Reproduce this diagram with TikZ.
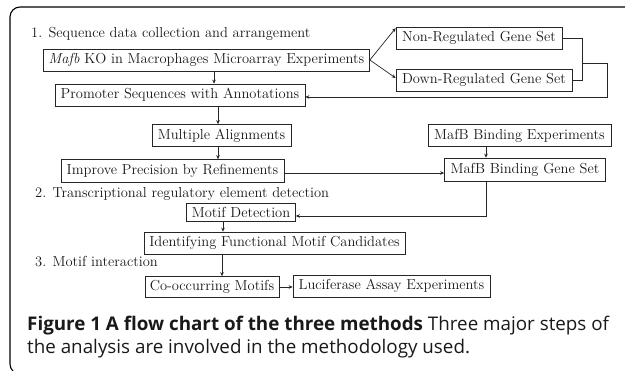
\documentclass[tikz,border=0pt]{standalone}
\usepackage{fontspec}
\newfontfamily\capfont{Open Sans}
\usetikzlibrary{arrows.meta}
\begin{document}
\begin{tikzpicture}[x=1pt,y=-1pt,
  txt/.style={font=\fontsize{14.5}{16}\selectfont, text=black!90},
  bx/.style={txt, draw=black!85, line width=0.7pt, inner sep=0pt},
  hd/.style={txt, anchor=west, inner sep=0pt},
  conn/.style={draw=black!85, line width=0.7pt},
  arr/.style={conn, -{Stealth[length=4pt,width=3.6pt]}},
  capt/.style={anchor=base west, inner sep=0pt, font=\capfont\fontsize{18.8}{22}\selectfont, text=black!90}]
\useasboundingbox (0,0) rectangle (625,371);

% outer frame, open at the right and bottom
\begin{scope}
  \clip (0,0) rectangle (625,371);
  \draw[line width=1.1pt, rounded corners=10pt] (627,7) -- (10,7) -- (10,374) -- (40,374);
\end{scope}

% section headings
\node[hd] (h1) at (31,34)  {1. Sequence data collection and arrangement};
\node[hd] (h2) at (35,194) {2. Transcriptional regulatory element detection};
\node[hd] (h3) at (35,262) {3. Motif interaction};

% boxes
\node[bx, minimum width=326pt, minimum height=22pt] (mafb)    at (206.5,60)  {\textit{Mafb} KO in Macrophages Microarray Experiments};
\node[bx, minimum width=166pt, minimum height=22pt] (nonreg)  at (479,38)    {Non-Regulated Gene Set};
\node[bx, minimum width=176pt, minimum height=22pt] (downreg) at (484,80)    {Down-Regulated Gene Set};
\node[bx, minimum width=250pt, minimum height=22pt] (prom)    at (180,95)    {Promoter Sequences with Annotations};
\node[bx, minimum width=139pt, minimum height=22pt] (multi)   at (221.5,135.5) {Multiple Alignments};
\node[bx, minimum width=223pt, minimum height=23pt] (improve) at (172.5,171)  {Improve Precision by Refinements};
\node[bx, minimum width=183pt, minimum height=22pt] (mbexp)   at (519.5,135.5) {MafB Binding Experiments};
\node[bx, minimum width=161pt, minimum height=23pt] (mbgene)  at (525,169.5) {MafB Binding Gene Set};
\node[bx, minimum width=109pt, minimum height=18pt] (motif)   at (241,212)   {Motif Detection};
\node[bx, minimum width=261pt, minimum height=22pt] (ident)   at (274.5,243) {Identifying Functional Motif Candidates};
\node[bx, minimum width=134pt, minimum height=21pt] (cooc)    at (212,287)   {Co-occurring Motifs};
\node[bx, minimum width=197pt, minimum height=22pt] (luc)     at (391.5,286) {Luciferase Assay Experiments};

% connectors
\draw[arr] (mafb.east) -- ([yshift=-1.5pt]nonreg.north west);
\draw[arr] (mafb.east) -- ([yshift=2pt]downreg.west);
\coordinate (jn) at (582,38);
\coordinate (jd) at (582,80);
\coordinate (jm) at (582,63);
\coordinate (r1) at (607,63);
\coordinate (r2) at (607,97);
\draw[conn] (nonreg.east) -- (jn) -- (jd) -- (downreg.east);
\draw[arr] (jm) -- (r1) -- (r2) -- (prom.east |- r2);

\draw[arr] (mafb.south -| 214,0) -- (prom.north -| 214,0);
\draw[arr] (prom.south -| 218,0) -- (multi.north -| 218,0);
\draw[arr] (multi.south -| 218,0) -- (improve.north -| 218,0);
\coordinate (ir) at (283,173);
\draw[arr] (improve.east |- ir) -- (mbgene.west |- ir);
\draw[arr] (mbexp.south -| 486,0) -- (mbgene.north -| 486,0);
\coordinate (mg) at (486,216);
\draw[arr] (mbgene.south -| mg) -- (mg) -- (motif.east |- mg);
\draw[arr] (motif.south -| 223,0) -- (ident.north -| 223,0);
\draw[arr] (ident.south -| 222,0) -- (cooc.north -| 222,0);
\draw[arr] (cooc.east) -- (luc.west |- cooc.east);

% caption
\node[capt] (cap1) at (27,331) {\textbf{Figure 1 A flow chart of the three methods} Three major steps of};
\node[capt] (cap2) at (27,354) {the analysis are involved in the methodology used.};
\end{tikzpicture}
\end{document}
